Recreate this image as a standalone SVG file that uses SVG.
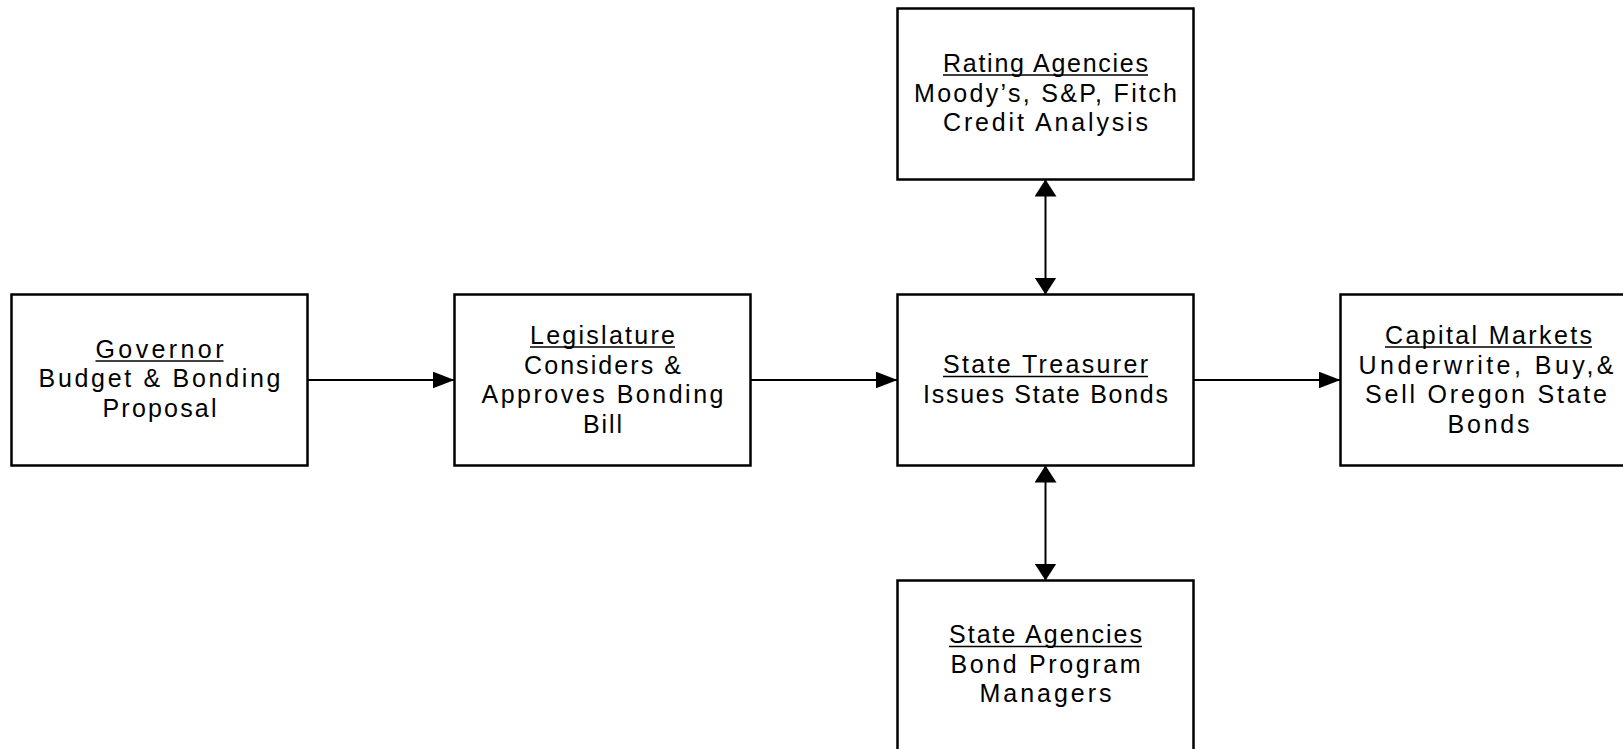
<svg xmlns="http://www.w3.org/2000/svg" width="1623" height="749" viewBox="0 0 1623 749">
<style>
  .box { fill: #ffffff; stroke: #000000; stroke-width: 2.5; }
  .lbl { font-family: "Liberation Sans", Arial, sans-serif; font-size: 25px; fill: #000000; text-anchor: middle; }
  .ul { stroke: #000000; stroke-width: 1.6; }
  .conn { stroke: #000000; stroke-width: 2; fill: none; }
</style>
<defs>
  <marker id="arrowH" markerUnits="userSpaceOnUse" markerWidth="22" markerHeight="17" refX="22" refY="8.5" orient="auto-start-reverse" viewBox="0 0 22 17">
    <path d="M0,0 L22,8.5 L0,17 Z" fill="#000000"/>
  </marker>
  <marker id="arrowV" markerUnits="userSpaceOnUse" markerWidth="17" markerHeight="22" refX="17" refY="11" orient="auto-start-reverse" viewBox="0 0 17 22">
    <path d="M0,0 L17,11 L0,22 Z" fill="#000000"/>
  </marker>
</defs>
<rect width="1623" height="749" fill="#ffffff"/>

<g id="connectors">
  <line class="conn" x1="307.5" y1="380" x2="454.5" y2="380" marker-end="url(#arrowH)"/>
  <line class="conn" x1="750.5" y1="380" x2="897.5" y2="380" marker-end="url(#arrowH)"/>
  <line class="conn" x1="1193.5" y1="380" x2="1340.5" y2="380" marker-end="url(#arrowH)"/>
  <line class="conn" x1="1045.5" y1="179.5" x2="1045.5" y2="294.5" marker-start="url(#arrowV)" marker-end="url(#arrowV)"/>
  <line class="conn" x1="1045.5" y1="465.5" x2="1045.5" y2="580.5" marker-start="url(#arrowV)" marker-end="url(#arrowV)"/>
</g>

<g id="governor">
  <rect class="box" x="11.5" y="294.5" width="296" height="171"/>
  <text class="lbl" x="159.5" y="357.5" textLength="128">Governor</text>
  <line class="ul" x1="95.5" y1="361" x2="223.5" y2="361"/>
  <text class="lbl" x="159.5" y="387" textLength="242">Budget &amp; Bonding</text>
  <text class="lbl" x="159.5" y="416.5" textLength="114">Proposal</text>
</g>

<g id="legislature">
  <rect class="box" x="454.5" y="294.5" width="296" height="171"/>
  <text class="lbl" x="602.5" y="343.5" textLength="145">Legislature</text>
  <line class="ul" x1="530" y1="347" x2="675" y2="347"/>
  <text class="lbl" x="602.5" y="373.5" textLength="157">Considers &amp;</text>
  <text class="lbl" x="602.5" y="403" textLength="242">Approves Bonding</text>
  <text class="lbl" x="602.5" y="432.5" textLength="39">Bill</text>
</g>

<g id="treasurer">
  <rect class="box" x="897.5" y="294.5" width="296" height="171"/>
  <text class="lbl" x="1045.5" y="373" textLength="205">State Treasurer</text>
  <line class="ul" x1="943" y1="376.5" x2="1148" y2="376.5"/>
  <text class="lbl" x="1045.5" y="403" textLength="245">Issues State Bonds</text>
</g>

<g id="capital-markets">
  <rect class="box" x="1340.5" y="294.5" width="296" height="171"/>
  <text class="lbl" x="1488.5" y="343.5" textLength="207">Capital Markets</text>
  <line class="ul" x1="1385" y1="347" x2="1592" y2="347"/>
  <text class="lbl" x="1486" y="373.5" textLength="255">Underwrite, Buy,&amp;</text>
  <text class="lbl" x="1486" y="403" textLength="242">Sell Oregon State</text>
  <text class="lbl" x="1488.5" y="432.5" textLength="82">Bonds</text>
</g>

<g id="rating-agencies">
  <rect class="box" x="897.5" y="8.5" width="296" height="171"/>
  <text class="lbl" x="1045.5" y="71.5" textLength="205">Rating Agencies</text>
  <line class="ul" x1="943" y1="75" x2="1148" y2="75"/>
  <text class="lbl" x="1045.5" y="101.5" textLength="263">Moody’s, S&amp;P, Fitch</text>
  <text class="lbl" x="1045.5" y="131" textLength="205">Credit Analysis</text>
</g>

<g id="state-agencies">
  <rect class="box" x="897.5" y="580.5" width="296" height="171"/>
  <text class="lbl" x="1045.5" y="643" textLength="193">State Agencies</text>
  <line class="ul" x1="949" y1="646.5" x2="1142" y2="646.5"/>
  <text class="lbl" x="1045.5" y="672.5" textLength="190">Bond Program</text>
  <text class="lbl" x="1045.5" y="702" textLength="132">Managers</text>
</g>
</svg>
